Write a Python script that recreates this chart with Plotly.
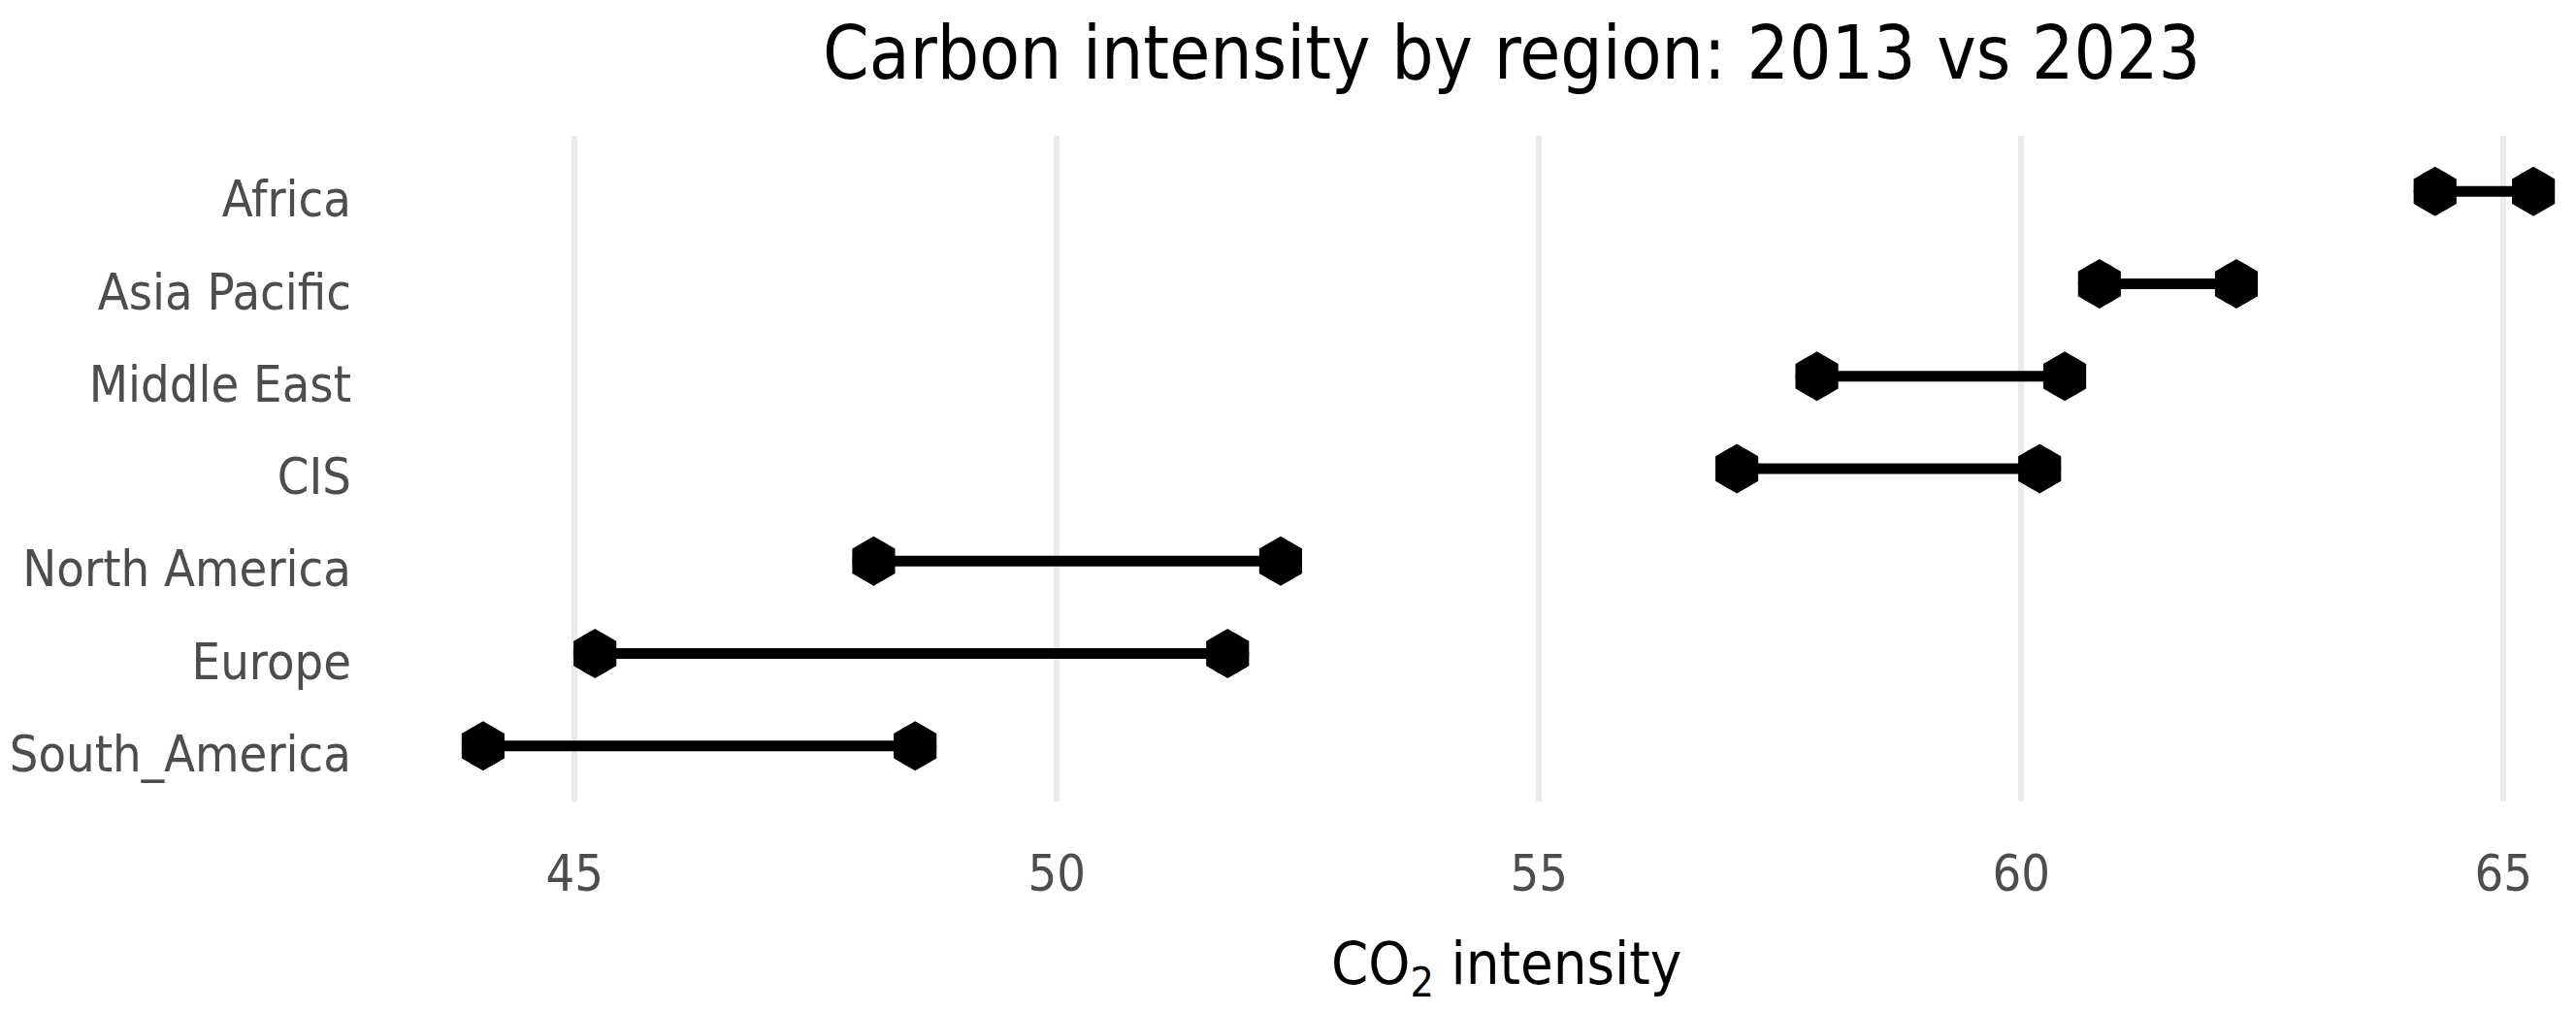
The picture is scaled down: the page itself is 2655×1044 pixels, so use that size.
import plotly.graph_objects as go

# ---- data ----
regions = ["Africa", "Asia Pacific", "Middle East", "CIS", "North America", "Europe", "South_America"]
val_2023 = [64.29, 60.81, 57.88, 57.05, 48.10, 45.21, 44.05]
val_2013 = [65.31, 62.23, 60.45, 60.19, 52.32, 51.77, 48.53]
x_ticks = [45, 50, 55, 60, 65]
x_tick_labels = ["45", "50", "55", "60", "65"]

FONT = "DejaVu Sans Condensed, Liberation Sans, sans-serif"

# segments between the two years
seg_x, seg_y = [], []
for r, a, b in zip(regions, val_2023, val_2013):
    seg_x += [a, b, None]
    seg_y += [r, r, None]

fig = go.Figure()
fig.add_trace(go.Scatter(x=seg_x, y=seg_y, mode="lines",
                         line=dict(color="black", width=11),
                         hoverinfo="skip", showlegend=False))
for vals, name in [(val_2023, "2023"), (val_2013, "2013")]:
    fig.add_trace(go.Scatter(x=vals, y=regions, mode="markers", name=name,
                             marker=dict(symbol="hexagon", size=51, color="black",
                                         line=dict(width=0)),
                             showlegend=False))
    fig.add_trace(go.Scatter(x=vals, y=regions, mode="markers", name=name,
                             marker=dict(symbol="circle", size=44, color="black",
                                         line=dict(width=0)),
                             showlegend=False, hoverinfo="skip"))

W, H = 2639, 1028
fig.update_layout(
    width=W, height=H,
    margin=dict(l=360, r=0, t=132, b=210, autoexpand=False),
    plot_bgcolor="white", paper_bgcolor="white",
    font=dict(family=FONT, color="#4d4d4d"),
    title=dict(text="Carbon intensity by region: 2013 vs 2023",
               font=dict(family=FONT, size=76, color="black"),
               x=1550 / W, xref="container", xanchor="center",
               y=1 - 46 / H, yref="container", yanchor="middle"),
    xaxis=dict(range=[42.743, 65.671], tickvals=x_ticks, ticktext=x_tick_labels,
               showgrid=True, gridcolor="#ebebeb", gridwidth=6,
               zeroline=False, showline=False, ticks="", automargin=False,
               tickfont=dict(family=FONT, size=52, color="#4d4d4d"),
               ticklabelstandoff=39),
    yaxis=dict(type="category", categoryorder="array", categoryarray=regions,
               range=[6.6, -0.6], showgrid=False, zeroline=False, showline=False,
               ticks="", automargin=False,
               tickfont=dict(family=FONT, size=52, color="#4d4d4d"),
               ticklabelstandoff=5, ticklabelshift=-8),
    annotations=[dict(text="CO<sub>2</sub> intensity", xref="paper", yref="paper",
                      x=0.5197, y=-0.249, xanchor="center", yanchor="middle",
                      showarrow=False,
                      font=dict(family=FONT, size=61, color="black"))],
)

fig.write_html("out.html")
